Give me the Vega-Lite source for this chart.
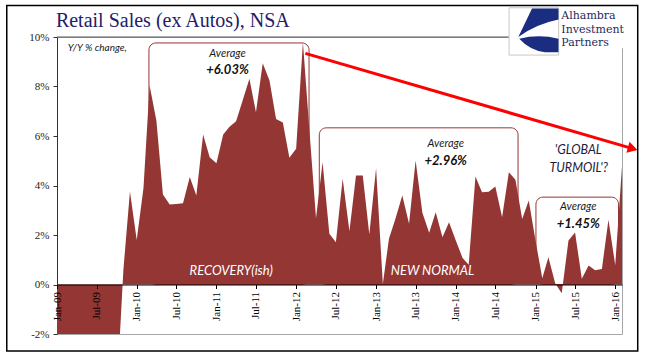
{
  "$schema": "https://vega.github.io/schema/vega-lite/v6.json",
  "width": 565,
  "height": 297,
  "autosize": {"type": "none"},
  "padding": {"left": 57, "top": 37, "right": 45, "bottom": 24},
  "background": "white",
  "config": {"view": {"stroke": "#a6a6a6", "strokeWidth": 1}},
  "data": {"values": [{}]},
  "datasets": {
    "sales": [
      {"date": "2009-01-01", "v": -9.5}, {"date": "2009-02-01", "v": -10.2}, {"date": "2009-03-01", "v": -10.5}, {"date": "2009-04-01", "v": -9.8},
      {"date": "2009-05-01", "v": -9.6}, {"date": "2009-06-01", "v": -9.3}, {"date": "2009-07-01", "v": -9.9}, {"date": "2009-08-01", "v": -8.1},
      {"date": "2009-09-01", "v": -6.9}, {"date": "2009-10-01", "v": -4.5}, {"date": "2009-11-01", "v": 0.6}, {"date": "2009-12-01", "v": 3.76},
      {"date": "2010-01-01", "v": 1.8}, {"date": "2010-02-01", "v": 3.9}, {"date": "2010-03-01", "v": 8.04}, {"date": "2010-04-01", "v": 6.63},
      {"date": "2010-05-01", "v": 3.64}, {"date": "2010-06-01", "v": 3.23}, {"date": "2010-07-01", "v": 3.25}, {"date": "2010-08-01", "v": 3.28},
      {"date": "2010-09-01", "v": 4.34}, {"date": "2010-10-01", "v": 3.6}, {"date": "2010-11-01", "v": 6.06}, {"date": "2010-12-01", "v": 5.14},
      {"date": "2011-01-01", "v": 4.9}, {"date": "2011-02-01", "v": 6.06}, {"date": "2011-03-01", "v": 6.36}, {"date": "2011-04-01", "v": 6.6},
      {"date": "2011-05-01", "v": 7.43}, {"date": "2011-06-01", "v": 8.31}, {"date": "2011-07-01", "v": 6.96}, {"date": "2011-08-01", "v": 8.94},
      {"date": "2011-09-01", "v": 8.24}, {"date": "2011-10-01", "v": 6.69}, {"date": "2011-11-01", "v": 6.55}, {"date": "2011-12-01", "v": 5.12},
      {"date": "2012-01-01", "v": 5.48}, {"date": "2012-02-01", "v": 9.79}, {"date": "2012-03-01", "v": 6.31}, {"date": "2012-04-01", "v": 2.68},
      {"date": "2012-05-01", "v": 4.94}, {"date": "2012-06-01", "v": 2.05}, {"date": "2012-07-01", "v": 1.71}, {"date": "2012-08-01", "v": 4.27},
      {"date": "2012-09-01", "v": 2.15}, {"date": "2012-10-01", "v": 4.4}, {"date": "2012-11-01", "v": 4.4}, {"date": "2012-12-01", "v": 2.02},
      {"date": "2013-01-01", "v": 4.7}, {"date": "2013-02-01", "v": 0.02}, {"date": "2013-03-01", "v": 1.85}, {"date": "2013-04-01", "v": 2.7},
      {"date": "2013-05-01", "v": 3.6}, {"date": "2013-06-01", "v": 2.45}, {"date": "2013-07-01", "v": 5.01}, {"date": "2013-08-01", "v": 2.9},
      {"date": "2013-09-01", "v": 2.09}, {"date": "2013-10-01", "v": 2.92}, {"date": "2013-11-01", "v": 1.91}, {"date": "2013-12-01", "v": 2.52},
      {"date": "2014-01-01", "v": 1.78}, {"date": "2014-02-01", "v": 1.07}, {"date": "2014-03-01", "v": 0.8}, {"date": "2014-04-01", "v": 4.36},
      {"date": "2014-05-01", "v": 3.73}, {"date": "2014-06-01", "v": 3.75}, {"date": "2014-07-01", "v": 3.96}, {"date": "2014-08-01", "v": 2.72},
      {"date": "2014-09-01", "v": 4.54}, {"date": "2014-10-01", "v": 4.23}, {"date": "2014-11-01", "v": 2.65}, {"date": "2014-12-01", "v": 3.39},
      {"date": "2015-01-01", "v": 1.78}, {"date": "2015-02-01", "v": 0.25}, {"date": "2015-03-01", "v": 1.1}, {"date": "2015-04-01", "v": 0.05},
      {"date": "2015-05-01", "v": -0.35}, {"date": "2015-06-01", "v": 1.78}, {"date": "2015-07-01", "v": 2.1}, {"date": "2015-08-01", "v": 0.23},
      {"date": "2015-09-01", "v": 0.77}, {"date": "2015-10-01", "v": 0.58}, {"date": "2015-11-01", "v": 0.63}, {"date": "2015-12-01", "v": 2.62},
      {"date": "2016-01-01", "v": 0.78}, {"date": "2016-02-01", "v": 4.78}
    ],
    "brackets": [
      {"start": "2010-02-26", "end": "2012-02-29", "top": 9.76},
      {"start": "2012-04-16", "end": "2014-10-13", "top": 6.33},
      {"start": "2015-01-03", "end": "2016-01-16", "top": 3.53}
    ],
    "notes": [
      {"kind": "title", "text": "Retail Sales (ex Autos), NSA", "date": "2008-12-27", "v": 10.4},
      {"kind": "small", "text": "Y/Y % change,", "date": "2009-02-19", "v": 9.43},
      {"kind": "avg", "text": "Average", "date": "2011-02-21", "v": 9.2},
      {"kind": "pct", "text": "+6.03%", "date": "2011-02-21", "v": 8.51},
      {"kind": "avg", "text": "Average", "date": "2013-11-16", "v": 5.54},
      {"kind": "pct", "text": "+2.96%", "date": "2013-11-16", "v": 4.83},
      {"kind": "avg", "text": "Average", "date": "2015-07-16", "v": 3.01},
      {"kind": "pct", "text": "+1.45%", "date": "2015-07-16", "v": 2.29},
      {"kind": "turmoil", "text": "'GLOBAL", "date": "2015-07-16", "v": 5.27},
      {"kind": "turmoil", "text": "TURMOIL'?", "date": "2015-07-18", "v": 4.56},
      {"kind": "era", "text": "RECOVERY(ish)", "date": "2011-03-10", "v": 0.38},
      {"kind": "era", "text": "NEW NORMAL", "date": "2013-09-16", "v": 0.38}
    ],
    "logo": [
      {"text": "Alhambra\nInvestment\nPartners", "date": "2015-04-29", "v": 10.71}
    ]
  },
  "layer": [
    {
      "mark": {"type": "rule", "color": "#555555", "strokeWidth": 1},
      "encoding": {"y": {"datum": 10, "type": "quantitative"}}
    },
    {
      "data": {"name": "brackets"},
      "mark": {"type": "rect", "filled": false, "stroke": "#943634", "strokeWidth": 1, "cornerRadius": 7},
      "encoding": {
        "x": {"field": "start", "type": "temporal", "scale": {"type": "utc"}},
        "x2": {"field": "end"},
        "y": {"field": "top", "type": "quantitative"},
        "y2": {"datum": 0}
      }
    },
    {
      "data": {"name": "sales"},
      "mark": {"type": "area", "color": "#943634", "clip": true, "interpolate": "linear"},
      "encoding": {
        "x": {
          "field": "date", "type": "temporal",
          "scale": {"type": "utc", "domain": [{"year": 2009, "month": 1, "date": 1, "utc": true}, {"year": 2016, "month": 2, "date": 1, "utc": true}]},
          "axis": {"format": "%b-%y", "tickCount": {"interval": "month", "step": 6}, "labelAngle": -90, "labelFont": "Liberation Serif", "labelFontSize": 11, "labelColor": "#000000", "labelPadding": 3, "tickSize": 4, "tickColor": "#000000", "domainColor": "#000000", "offset": -49.5, "grid": false, "title": null, "labelFlush": false, "labelOverlap": false, "zindex": 1}
        },
        "y": {
          "field": "v", "type": "quantitative",
          "scale": {"domain": [-2, 10], "nice": false, "zero": false},
          "axis": {"values": [-2, 0, 2, 4, 6, 8, 10], "labelExpr": "datum.value + '%'", "labelFont": "Liberation Serif", "labelFontSize": 11, "labelColor": "#222222", "tickSize": 4, "tickColor": "#333333", "domainColor": "#333333", "gridDash": [3, 2], "gridColor": "#a0a0a0", "title": null, "labelPadding": 4}
        },
        "y2": {"datum": 0}
      }
    },
    {
      "mark": {"type": "rule", "color": "#ff0000", "strokeWidth": 3},
      "encoding": {
        "x": {"datum": {"year": 2012, "month": 2, "date": 12, "utc": true}, "type": "temporal", "scale": {"type": "utc"}},
        "y": {"datum": 9.34},
        "x2": {"datum": {"year": 2016, "month": 3, "date": 21, "utc": true}},
        "y2": {"datum": 5.49}
      }
    },
    {
      "mark": {"type": "point", "shape": "triangle-right", "filled": true, "color": "#ff0000", "opacity": 1, "size": 130, "angle": 16},
      "encoding": {
        "x": {"datum": {"year": 2016, "month": 3, "date": 21, "utc": true}, "type": "temporal", "scale": {"type": "utc"}},
        "y": {"datum": 5.49}
      }
    },
    {
      "data": {"name": "notes"},
      "transform": [{"filter": "datum.kind == 'small'"}],
      "mark": {"type": "text", "font": "Lato", "fontStyle": "italic", "fontSize": 10, "align": "left", "baseline": "alphabetic", "color": "#1a1a1a"},
      "encoding": {"x": {"field": "date", "type": "temporal", "scale": {"type": "utc"}}, "y": {"field": "v", "type": "quantitative"}, "text": {"field": "text"}}
    },
    {
      "data": {"name": "notes"},
      "transform": [{"filter": "datum.kind == 'avg'"}],
      "mark": {"type": "text", "font": "Lato", "fontStyle": "italic", "fontSize": 11, "align": "center", "baseline": "alphabetic", "color": "#1a1a1a"},
      "encoding": {"x": {"field": "date", "type": "temporal", "scale": {"type": "utc"}}, "y": {"field": "v", "type": "quantitative"}, "text": {"field": "text"}}
    },
    {
      "data": {"name": "notes"},
      "transform": [{"filter": "datum.kind == 'pct'"}],
      "mark": {"type": "text", "font": "Lato", "fontStyle": "italic", "fontWeight": "bold", "fontSize": 13, "align": "center", "baseline": "alphabetic", "color": "#111111"},
      "encoding": {"x": {"field": "date", "type": "temporal", "scale": {"type": "utc"}}, "y": {"field": "v", "type": "quantitative"}, "text": {"field": "text"}}
    },
    {
      "data": {"name": "notes"},
      "transform": [{"filter": "datum.kind == 'turmoil'"}],
      "mark": {"type": "text", "font": "Lato", "fontStyle": "italic", "fontSize": 12.5, "align": "center", "baseline": "alphabetic", "color": "#1c1c3c"},
      "encoding": {"x": {"field": "date", "type": "temporal", "scale": {"type": "utc"}}, "y": {"field": "v", "type": "quantitative"}, "text": {"field": "text"}}
    },
    {
      "data": {"name": "notes"},
      "transform": [{"filter": "datum.kind == 'era'"}],
      "mark": {"type": "text", "font": "Lato", "fontStyle": "italic", "fontSize": 13, "align": "center", "baseline": "alphabetic", "color": "#ffffff"},
      "encoding": {"x": {"field": "date", "type": "temporal", "scale": {"type": "utc"}}, "y": {"field": "v", "type": "quantitative"}, "text": {"field": "text"}}
    },
    {
      "mark": {"type": "rect", "fill": "#ffffff", "strokeWidth": 0},
      "encoding": {
        "x": {"datum": {"year": 2014, "month": 9, "date": 1, "utc": true}, "type": "temporal", "scale": {"type": "utc"}},
        "x2": {"datum": {"year": 2016, "month": 5, "date": 1, "utc": true}},
        "y": {"datum": 9.55},
        "y2": {"datum": 11.4}
      }
    },
    {
      "mark": {"type": "rect", "fill": "#ffffff", "stroke": "#c8c8c8", "strokeWidth": 1},
      "encoding": {
        "x": {"datum": {"year": 2014, "month": 9, "date": 2, "utc": true}, "type": "temporal", "scale": {"type": "utc"}},
        "x2": {"datum": {"year": 2015, "month": 4, "date": 17, "utc": true}},
        "y": {"datum": 9.27},
        "y2": {"datum": 11.18}
      }
    },
    {
      "mark": {"type": "point", "shape": "M-0.08,-0.93 L1,-0.93 L1,-0.48 Q0.1,-0.3 -0.64,0.23 Z M-0.6,0.3 Q0.2,0.1 1,0.3 L1,0.86 L0.45,0.86 Q-0.2,0.75 -0.6,0.3 Z", "filled": true, "color": "#1b2d80", "opacity": 1, "size": 2400, "strokeWidth": 0},
      "encoding": {
        "x": {"datum": {"year": 2014, "month": 12, "date": 25, "utc": true}, "type": "temporal", "scale": {"type": "utc"}},
        "y": {"datum": 10.23}
      }
    },
    {
      "data": {"name": "logo"},
      "mark": {"type": "text", "font": "DejaVu Serif", "fontSize": 11, "lineBreak": "\n", "lineHeight": 13.2, "align": "left", "baseline": "alphabetic", "color": "#1f2a5c"},
      "encoding": {"x": {"field": "date", "type": "temporal", "scale": {"type": "utc"}}, "y": {"field": "v", "type": "quantitative"}, "text": {"field": "text"}}
    },
    {
      "data": {"name": "notes"},
      "transform": [{"filter": "datum.kind == 'title'"}],
      "mark": {"type": "text", "font": "Liberation Serif", "fontSize": 20, "align": "left", "baseline": "alphabetic", "color": "#1f2068"},
      "encoding": {"x": {"field": "date", "type": "temporal", "scale": {"type": "utc"}}, "y": {"field": "v", "type": "quantitative"}, "text": {"field": "text"}}
    },
    {
      "mark": {"type": "rect", "filled": false, "stroke": "#000000", "strokeWidth": 1.5},
      "encoding": {
        "x": {"datum": {"year": 2008, "month": 5, "date": 16, "utc": true}, "type": "temporal", "scale": {"type": "utc"}},
        "x2": {"datum": {"year": 2016, "month": 4, "date": 13, "utc": true}},
        "y": {"datum": 11.27},
        "y2": {"datum": -2.69}
      }
    }
  ]
}
